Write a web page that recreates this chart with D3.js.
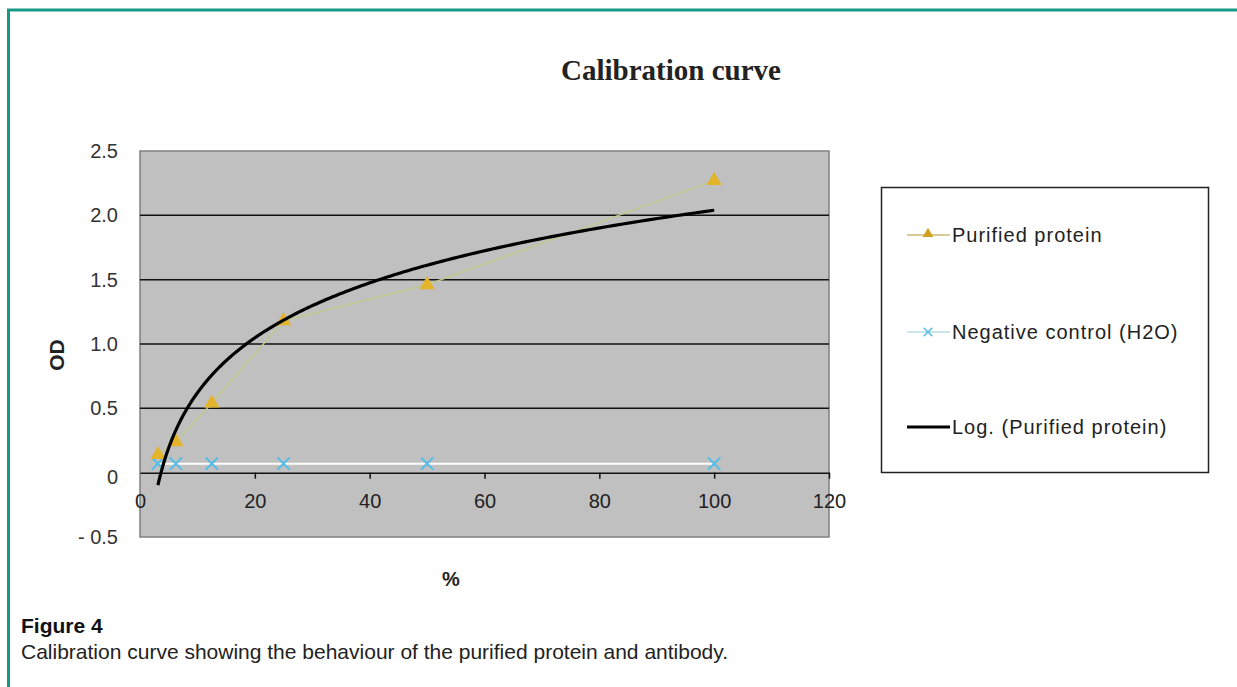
<!DOCTYPE html>
<html lang="en">
<head>
  <meta charset="UTF-8">
  <title>Calibration curve</title>
  <script src="https://cdn.jsdelivr.net/npm/d3@7/dist/d3.min.js"></script>
  <style type="text/css">
    body { margin: 0; background: white; }
    svg { display: block; }
    text { font-family: "Liberation Sans", Arial, sans-serif; fill: #222; }
  </style>
</head>
<body>
<svg id="chart" width="1237" height="687"></svg>
<script>

  // dilution (%) and measured OD
  const percent   = [3.125, 6.25, 12.5, 25, 50, 100];
  const purified  = [0.14, 0.24, 0.54, 1.18, 1.46, 2.27];
  const negative  = [0.07, 0.07, 0.07, 0.07, 0.07, 0.07];
  const xTicks = [0, 20, 40, 60, 80, 100, 120];
  const yTicks = [-0.5, 0, 0.5, 1.0, 1.5, 2.0, 2.5];
  const legendNames = ['Purified protein', 'Negative control (H2O)', 'Log. (Purified protein)'];

  const svg = d3.select('#chart');

  // teal frame
  svg.append('path')
    .attr('d', 'M8.5,690 L8.5,10 L1240,10')
    .attr('fill', 'none').attr('stroke', '#17998a').attr('stroke-width', 3);

  const plot = {left: 140, top: 151, right: 829, bottom: 537};
  const x = d3.scaleLinear().domain([0, 120]).range([plot.left, plot.right]);
  const y = d3.scaleLinear().domain([-0.5, 2.5]).range([plot.bottom, plot.top]);

  svg.append('text')
    .attr('x', 671).attr('y', 80).attr('text-anchor', 'middle')
    .style('font-family', '"Liberation Serif", "Times New Roman", serif')
    .style('font-weight', 'bold').style('font-size', '29px')
    .text('Calibration curve');

  svg.append('rect')
    .attr('x', plot.left).attr('y', plot.top)
    .attr('width', plot.right - plot.left).attr('height', plot.bottom - plot.top)
    .attr('fill', '#c0c0c0').attr('stroke', '#808080').attr('stroke-width', 1.5);

  // horizontal gridlines
  svg.append('g').selectAll('line')
    .data(yTicks.filter(d => d > 0 && d < 2.5))
    .join('line')
    .attr('x1', plot.left).attr('x2', plot.right)
    .attr('y1', d => y(d)).attr('y2', d => y(d))
    .attr('stroke', '#111').attr('stroke-width', 1.5);

  // y labels
  svg.append('g').selectAll('text')
    .data(yTicks)
    .join('text')
    .attr('x', 118).attr('y', d => y(d) + (d === 0 ? 11 : 7))
    .attr('text-anchor', 'end')
    .style('font-size', '20px').style('fill', '#333')
    .text(d => d === 0 ? '0' : d < 0 ? '- ' + d3.format('.1f')(-d) : d3.format('.1f')(d));

  // x axis crossing at OD 0
  const xAxis = svg.append('g')
    .attr('transform', `translate(0,${y(0)})`)
    .call(d3.axisBottom(x).tickValues(xTicks).tickSizeInner(6).tickSizeOuter(0).tickPadding(15));
  xAxis.select('.domain').attr('stroke', '#111').attr('stroke-width', 1.5);
  xAxis.selectAll('.tick line').attr('stroke', '#111').attr('stroke-width', 1.5)
    .filter(d => d === 0).remove();
  xAxis.selectAll('.tick text')
    .style('font-size', '20px').style('font-family', '"Liberation Sans", Arial, sans-serif')
    .attr('fill', '#333');

  svg.append('text')
    .attr('transform', 'translate(64,355) rotate(-90)')
    .attr('text-anchor', 'middle')
    .style('font-weight', 'bold').style('font-size', '21px')
    .text('OD');

  svg.append('text')
    .attr('x', 451).attr('y', 586).attr('text-anchor', 'middle')
    .style('font-weight', 'bold').style('font-size', '20px')
    .text('%');

  const line = d3.line().x(d => x(d[0])).y(d => y(d[1]));

  // negative control
  const negPts = d3.zip(percent, negative);
  svg.append('path').attr('d', line(negPts))
    .attr('fill', 'none').attr('stroke', '#ffffff').attr('stroke-width', 2);
  const cross = d3.symbol().type(d3.symbolX).size(100);
  svg.append('g').selectAll('path')
    .data(negPts).join('path')
    .attr('transform', d => `translate(${x(d[0])},${y(d[1])})`)
    .attr('d', cross)
    .attr('fill', 'none').attr('stroke', '#55bde6').attr('stroke-width', 2);

  // purified protein
  const purPts = d3.zip(percent, purified);
  svg.append('path').attr('d', line(purPts))
    .attr('fill', 'none').attr('stroke', '#bfc98c').attr('stroke-width', 1.5);
  const tri = d3.symbol().type(d3.symbolTriangle).size(100);
  svg.append('g').selectAll('path')
    .data(purPts).join('path')
    .attr('transform', d => `translate(${x(d[0])},${y(d[1])})`)
    .attr('d', tri)
    .attr('fill', '#e3b32a');

  // logarithmic trendline, least squares on ln(x)
  const lx = percent.map(Math.log);
  const mx = d3.mean(lx), my = d3.mean(purified);
  const slope = d3.sum(lx, (v, i) => (v - mx) * (purified[i] - my)) / d3.sum(lx, v => (v - mx) * (v - mx));
  const icpt = my - slope * mx;
  const trend = d3.range(0, 201).map(i => {
    const xv = percent[0] * Math.pow(percent[percent.length - 1] / percent[0], i / 200);
    return [xv, slope * Math.log(xv) + icpt];
  });
  svg.append('path').attr('d', line(trend))
    .attr('fill', 'none').attr('stroke', '#000').attr('stroke-width', 3.2);

  // legend
  const lg = svg.append('g');
  lg.append('rect')
    .attr('x', 881.5).attr('y', 187.5).attr('width', 327).attr('height', 285)
    .attr('fill', 'white').attr('stroke', '#222').attr('stroke-width', 1.5);
  const rowsY = [235, 332, 427];
  const rows = lg.selectAll('g').data(legendNames).join('g')
    .attr('transform', (d, i) => `translate(0,${rowsY[i]})`);
  rows.append('line')
    .attr('x1', 907).attr('x2', 950).attr('y1', 0).attr('y2', 0)
    .attr('stroke', (d, i) => ['#c9b874', '#b8dde0', '#000'][i])
    .attr('stroke-width', (d, i) => i === 2 ? 3 : 1.5);
  rows.filter((d, i) => i === 0).append('path')
    .attr('transform', 'translate(928,-1)').attr('d', d3.symbol().type(d3.symbolTriangle).size(50))
    .attr('fill', '#d4a020');
  rows.filter((d, i) => i === 1).append('path')
    .attr('transform', 'translate(928,0)').attr('d', d3.symbol().type(d3.symbolX).size(50))
    .attr('fill', 'none').attr('stroke', '#55bde6').attr('stroke-width', 1.5);
  rows.append('text')
    .attr('x', 952).attr('y', 7)
    .style('font-size', '20px').style('letter-spacing', '1px').style('fill', '#222')
    .text(d => d);

  // caption
  svg.append('text')
    .attr('x', 21).attr('y', 633)
    .style('font-weight', 'bold').style('font-size', '21px').style('fill', '#111')
    .text('Figure 4');
  svg.append('text')
    .attr('x', 21).attr('y', 659)
    .style('font-size', '21px').style('fill', '#222')
    .text('Calibration curve showing the behaviour of the purified protein and antibody.');

</script>
</body>
</html>
